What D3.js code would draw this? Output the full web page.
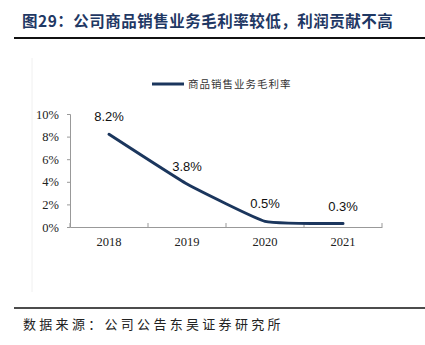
<!DOCTYPE html>
<html><head><meta charset="utf-8">
<script src="https://cdn.jsdelivr.net/npm/d3@7"></script>
<style>body{margin:0;background:#fff;}svg{display:block;}</style>
</head><body>
<script>
const categories = ["2018","2019","2020","2021"];
const values = [8.2, 3.8, 0.5, 0.3];
const valueLabels = ["8.2%","3.8%","0.5%","0.3%"];
const yTicks = [0,2,4,6,8,10];
const seriesName = "商品销售业务毛利率";
const titleText = "图29：公司商品销售业务毛利率较低，利润贡献不高";
const sourceText = "数据来源：公司公告东吴证券研究所";

const W=425,H=345;
const svg=d3.select("body").append("svg").attr("width",W).attr("height",H);
const navy="#1b365d";

svg.append("text").attr("x",22).attr("y",27).text(titleText)
  .attr("font-family","'Noto Sans CJK SC'").attr("font-weight","bold")
  .attr("font-size",15.5).attr("letter-spacing",0.5).attr("fill","#1f3864");
svg.append("line").attr("x1",14).attr("x2",425).attr("y1",38).attr("y2",38)
  .attr("stroke","#111").attr("stroke-width",2);

svg.append("line").attr("x1",32).attr("x2",32).attr("y1",58).attr("y2",292)
  .attr("stroke","#f0f0f0").attr("stroke-width",1);

const x=d3.scaleBand().domain(categories).range([70,382]);
const y=d3.scaleLinear().domain([0,10]).range([227,114]);

// y axis
const ya=svg.append("g").attr("transform","translate(70,0)")
  .call(d3.axisLeft(y).tickValues(yTicks).tickFormat(d=>d+"%").tickSize(3).tickPadding(8));
ya.select(".domain").attr("stroke","#999");
ya.selectAll(".tick line").attr("stroke","#999");
ya.selectAll("text").attr("font-family","'Liberation Serif'").attr("font-size",12.5).attr("fill","#222");

// x axis
const xa=svg.append("g").attr("transform","translate(0,227)")
  .call(d3.axisBottom(x).tickSize(0).tickPadding(10));
xa.select(".domain").attr("stroke","#999");
xa.selectAll("text").attr("font-family","'Liberation Serif'").attr("font-size",12.5).attr("fill","#222");
const bounds=[...categories.map(c=>x(c)), x.range()[1]];
xa.selectAll(".sep").data(bounds).enter().append("line")
  .attr("x1",d=>d).attr("x2",d=>d).attr("y1",0).attr("y2",-4).attr("stroke","#999");

const cx=c=>x(c)+x.bandwidth()/2;
const line=d3.line().x((d,i)=>cx(categories[i])).y(d=>y(d)).curve(d3.curveCardinal.tension(0.65));
svg.append("path").attr("d",line(values)).attr("fill","none")
  .attr("stroke",navy).attr("stroke-width",3).attr("stroke-linecap","round");

svg.selectAll(".lab").data(values).enter().append("text")
  .attr("x",(d,i)=>cx(categories[i])).attr("y",(d,i)=>y(d)-13)
  .attr("text-anchor","middle").attr("font-family","'Liberation Sans'")
  .attr("font-size",13).attr("fill","#111").text((d,i)=>valueLabels[i]);

// legend
svg.append("line").attr("x1",152).attr("x2",184).attr("y1",84).attr("y2",84)
  .attr("stroke",navy).attr("stroke-width",3);
svg.append("text").attr("x",188).attr("y",88).text(seriesName)
  .attr("font-family","'Noto Sans CJK SC'").attr("font-size",10.5)
  .attr("letter-spacing",1).attr("fill","#333");

svg.append("line").attr("x1",14).attr("x2",425).attr("y1",308).attr("y2",308)
  .attr("stroke","#111").attr("stroke-width",1.5);
svg.append("text").attr("x",23).attr("y",329).text(sourceText)
  .attr("font-family","'Noto Sans CJK SC'").attr("font-size",13)
  .attr("letter-spacing",3.3).attr("fill","#222");
</script>
</body></html>
